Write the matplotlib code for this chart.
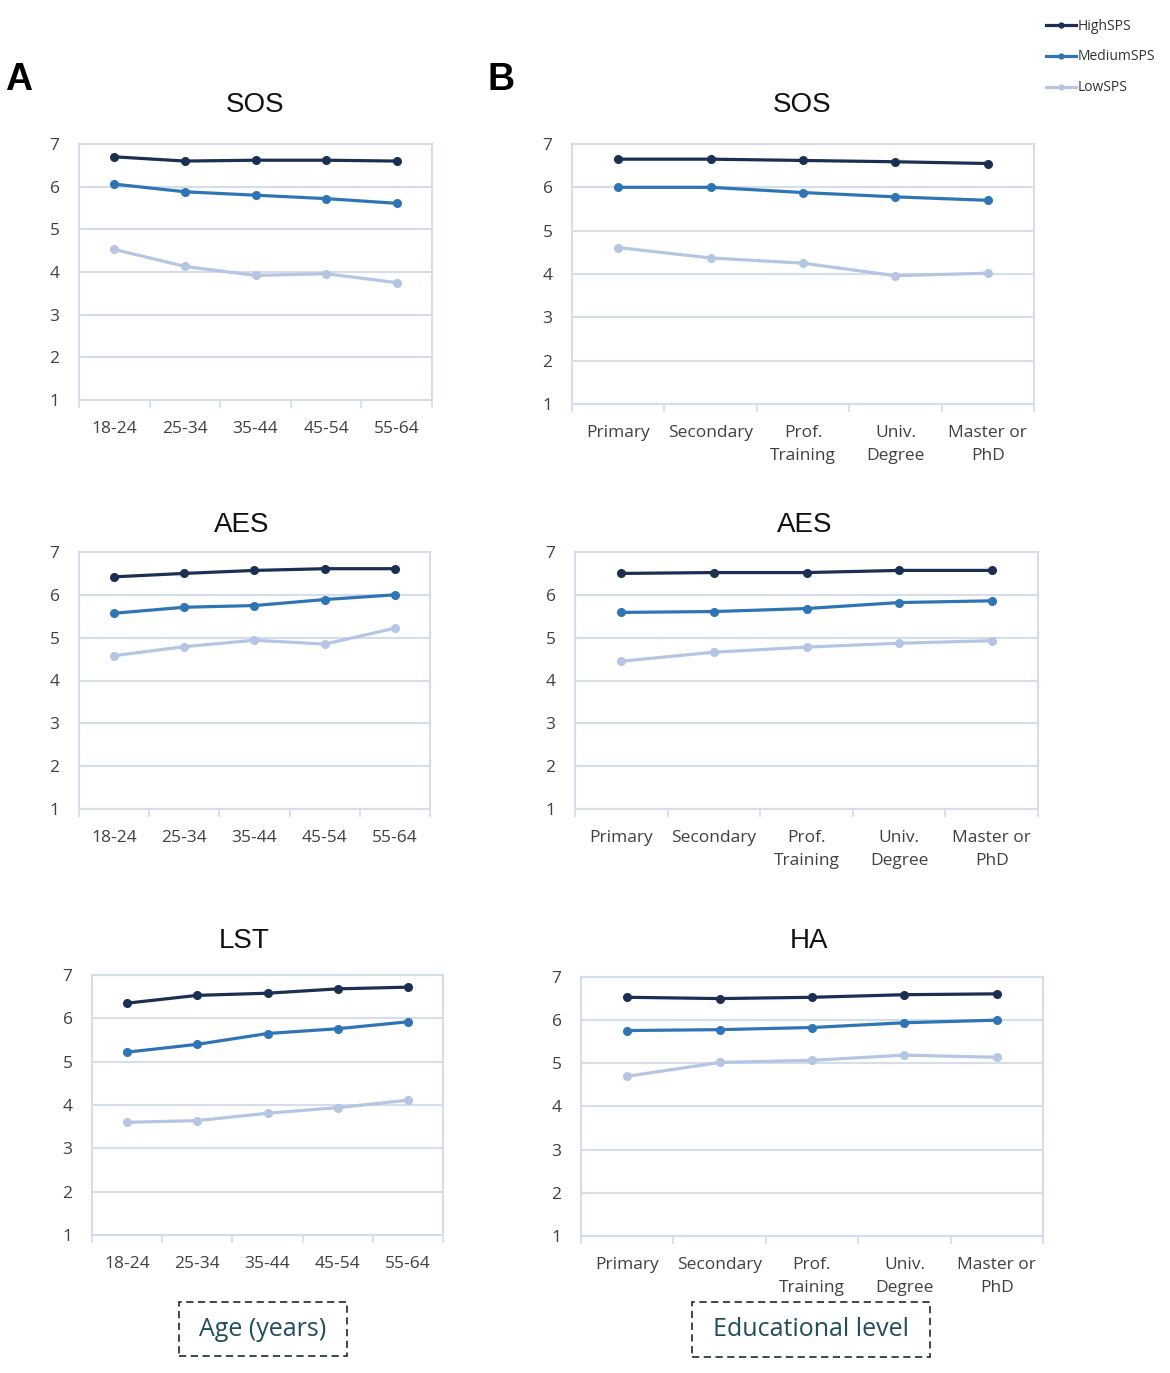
import matplotlib.pyplot as plt
from matplotlib.lines import Line2D
from matplotlib.patches import Rectangle

# category labels
age_groups = ['18-24', '25-34', '35-44', '45-54', '55-64']
edu_levels = ['Primary', 'Secondary', 'Prof.\nTraining', 'Univ.\nDegree', 'Master or\nPhD']
series_names = ['HighSPS', 'MediumSPS', 'LowSPS']

# A: by age
sos_age_high = [6.70, 6.60, 6.62, 6.62, 6.60]
sos_age_med = [6.06, 5.88, 5.80, 5.72, 5.61]
sos_age_low = [4.53, 4.13, 3.92, 3.96, 3.75]

aes_age_high = [6.42, 6.50, 6.57, 6.61, 6.61]
aes_age_med = [5.57, 5.71, 5.75, 5.89, 6.00]
aes_age_low = [4.58, 4.79, 4.94, 4.85, 5.22]

lst_age_high = [6.35, 6.53, 6.58, 6.68, 6.72]
lst_age_med = [5.22, 5.40, 5.65, 5.76, 5.92]
lst_age_low = [3.60, 3.64, 3.81, 3.94, 4.11]

# B: by educational level
sos_edu_high = [6.65, 6.65, 6.62, 6.59, 6.55]
sos_edu_med = [6.00, 6.00, 5.88, 5.78, 5.70]
sos_edu_low = [4.61, 4.37, 4.25, 3.96, 4.02]

aes_edu_high = [6.50, 6.52, 6.52, 6.57, 6.57]
aes_edu_med = [5.59, 5.61, 5.68, 5.82, 5.86]
aes_edu_low = [4.45, 4.66, 4.78, 4.87, 4.93]

ha_edu_high = [6.53, 6.50, 6.53, 6.59, 6.61]
ha_edu_med = [5.76, 5.78, 5.83, 5.94, 6.00]
ha_edu_low = [4.70, 5.02, 5.07, 5.19, 5.14]

colors = ['#1b2f52', '#2e75b6', '#b4c6e4']
grid_col = '#d5dcea'
tick_col = '#404040'

W, H = 1170, 1373
fig = plt.figure(figsize=(W / 100, H / 100), dpi=100)
plt.rcParams['font.family'] = ['Open Sans', 'DejaVu Sans']


def px_axes(left, top, right, bottom):
    return fig.add_axes([left / W, 1 - bottom / H, (right - left) / W, (bottom - top) / H])


# (title, cats, series, box in px, title pos)
panels = [
    ('SOS', age_groups, [sos_age_high, sos_age_med, sos_age_low], (79, 144, 432, 400), (255, 105)),
    ('AES', age_groups, [aes_age_high, aes_age_med, aes_age_low], (79, 552, 430, 809), (242, 525)),
    ('LST', age_groups, [lst_age_high, lst_age_med, lst_age_low], (92, 975, 443, 1235), (244, 941)),
    ('SOS', edu_levels, [sos_edu_high, sos_edu_med, sos_edu_low], (572, 144, 1034, 404), (802, 105)),
    ('AES', edu_levels, [aes_edu_high, aes_edu_med, aes_edu_low], (575, 552, 1038, 809), (805, 525)),
    ('HA', edu_levels, [ha_edu_high, ha_edu_med, ha_edu_low], (581, 977, 1043, 1236), (809, 941)),
]

for title, cats, series, box, tpos in panels:
    ax = px_axes(*box)
    x = list(range(len(cats)))
    for vals, c, name in zip(series, colors, series_names):
        ax.plot(x, vals, color=c, lw=2.3, marker='o', ms=5.5, label=name, zorder=3)
    ax.set_xlim(-0.5, len(cats) - 0.5)
    ax.set_ylim(1, 7)
    ax.set_yticks(range(1, 8))
    ax.set_xticks([i - 0.5 for i in range(len(cats) + 1)])
    ax.set_xticklabels([])
    ax.set_xticks(x, minor=True)
    ax.set_xticklabels(cats, minor=True, linespacing=1.6)
    ax.tick_params(axis='x', which='major', length=6, width=1.2, color=grid_col, direction='out')
    ax.tick_params(axis='x', which='minor', length=0, pad=15, labelsize=12.5, labelcolor=tick_col)
    ax.tick_params(axis='y', length=0, pad=14, labelsize=12.5, labelcolor=tick_col)
    ax.grid(axis='y', color=grid_col, lw=1.5)
    for s in ax.spines.values():
        s.set_color(grid_col)
        s.set_linewidth(1.5)
    ax.set_axisbelow(True)
    fig.text(tpos[0] / W, 1 - tpos[1] / H, title, ha='center', va='center',
             fontsize=20, family='Liberation Sans', color='#111111')

fig.text(5 / W, 1 - 80 / H, 'A', fontsize=27, fontweight='bold', family='Liberation Sans',
         va='center', ha='left')
fig.text(487 / W, 1 - 80 / H, 'B', fontsize=27, fontweight='bold', family='Liberation Sans',
         va='center', ha='left')

handles = [Line2D([], [], color=c, lw=2.3, marker='o', ms=3.5) for c in colors]
fig.legend(handles, series_names, loc='upper left', bbox_to_anchor=(1033 / W, 1 - 6 / H),
           frameon=False, fontsize=10, handlelength=2.2, handletextpad=0.1,
           labelspacing=1.15, labelcolor='#333333')

# x-axis group boxes
for label, (l, t, r, b) in [('Age (years)', (179, 1302, 347, 1356)),
                            ('Educational level', (692, 1302, 930, 1357))]:
    fig.patches.append(Rectangle((l / W, 1 - b / H), (r - l) / W, (b - t) / H,
                                 transform=fig.transFigure, fill=False,
                                 ls=(0, (4, 2.5)), lw=1.3, ec='#2a3a44'))
    fig.text((l + r) / 2 / W, 1 - (t + b) / 2 / H, label, ha='center', va='center',
             fontsize=18, color='#1f4e5f')

fig.savefig('out.png', dpi=100, facecolor='white')
